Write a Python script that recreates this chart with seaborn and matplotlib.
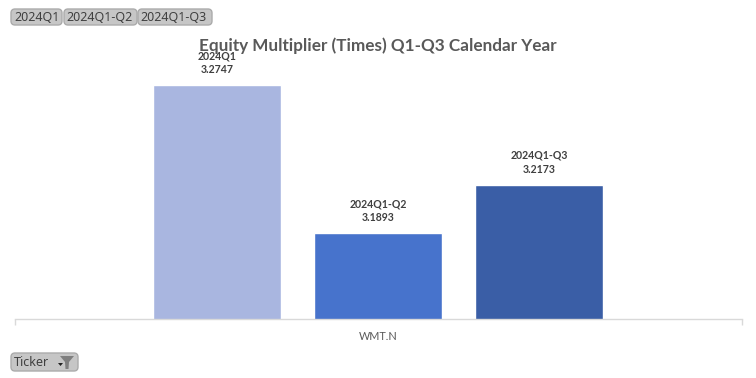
import seaborn as sns
import pandas as pd
import matplotlib.pyplot as plt
from matplotlib.patches import FancyBboxPatch, Polygon

tickers = ["WMT.N", "WMT.N", "WMT.N"]
periods = ["2024Q1", "2024Q1-Q2", "2024Q1-Q3"]
values = [3.2747, 3.1893, 3.2173]
colors = ["#A9B6E0", "#4773CC", "#3A5EA6"]

W, H = 756, 378

def fx(px):
    return px / W

def fy(px):
    return 1 - px / H

def button(fig, x0, x1, y0, y1, label, tx):
    box = FancyBboxPatch((x0, H - y1), x1 - x0, y1 - y0,
                         boxstyle="round,pad=0,rounding_size=4",
                         fc="#C6C6C6", ec="#ABABAB", lw=1,
                         transform=px_trans, clip_on=False)
    fig.add_artist(box)
    fig.text(fx(tx), fy((y0 + y1) / 2 + 0.5), label, fontsize=9, family="Noto Sans",
             color="#404040", ha="left", va="center")

sns.set_theme(style="white")
plt.rcParams['font.family'] = ['Lato', 'DejaVu Sans']

df = pd.DataFrame({"Ticker": tickers, "Period": periods, "Value": values})

fig = plt.figure(figsize=(7.56, 3.78), dpi=100)
px_trans = plt.matplotlib.transforms.Affine2D().scale(1.0)
ax = fig.add_axes([fx(14.5), fy(319), (742 - 15) / W, 300 / H])

sns.barplot(data=df, x="Ticker", y="Value", hue="Period", palette=colors, saturation=1,
            width=0.664, gap=0.205, legend=False, ax=ax)
ax.set_xlim(-0.5, 0.5)
ax.set_ylim(3.1397, 3.1397 + 300 / 1733)
ax.set_xlabel("")
ax.set_ylabel("")
ax.set_yticks([])
for s in ["top", "left", "right"]:
    ax.spines[s].set_visible(False)
ax.spines["bottom"].set_color("#D9D9D9")
ax.spines["bottom"].set_linewidth(1)
ax.set_xticks([-0.5, 0.5], minor=True)
ax.tick_params(axis="x", which="minor", bottom=True, length=4, color="#D9D9D9", width=1)
ax.tick_params(axis="x", which="major", bottom=False, labelsize=7.8, labelcolor="#595959", pad=3)

for cont, p, v in zip(ax.containers, periods, values):
    ax.bar_label(cont, labels=[f"{p}\n{v:.4f}"], padding=7, fontsize=7.6, fontweight="bold",
                 color="#404040", linespacing=1.35)

fig.text(fx(378), fy(46), "Equity Multiplier (Times) Q1-Q3 Calendar Year", fontsize=12.3,
         fontweight="bold", color="#595959", ha="center", va="center")

button(fig, 11, 62, 9, 25, "2024Q1", 14)
button(fig, 64, 137, 9, 25, "2024Q1-Q2", 66)
button(fig, 138, 212, 9, 25, "2024Q1-Q3", 140)
button(fig, 11, 78, 353, 371, "Ticker", 14)

# dropdown arrow and funnel on the Ticker button
fig.add_artist(Polygon([(58, H - 363), (63, H - 363), (60.5, H - 366)], closed=True,
                       fc="#202020", ec="none", transform=px_trans))
fig.add_artist(Polygon([(60, H - 356), (74, H - 356), (69, H - 362), (68.5, H - 369),
                        (65.5, H - 369), (65, H - 362)], closed=True,
                       fc="#7F7F7F", ec="none", transform=px_trans))

fig.savefig("out.png", dpi=100)
